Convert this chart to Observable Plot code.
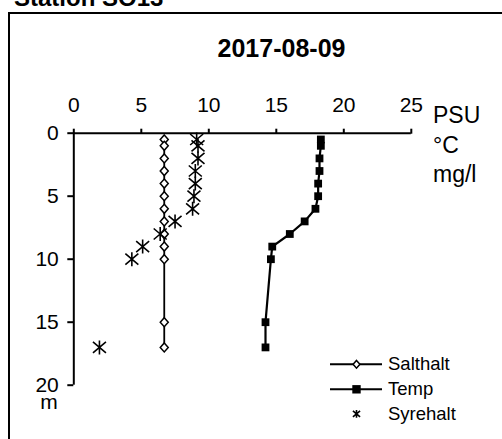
<!DOCTYPE html>
<html>
<head>
<meta charset="utf-8">
<script src="https://cdn.jsdelivr.net/npm/d3@7"></script>
<script src="https://cdn.jsdelivr.net/npm/@observablehq/plot@0.6"></script>
<style>
  html, body { margin: 0; padding: 0; background: #fff; }
  #wrap { position: relative; width: 502px; height: 439px; overflow: hidden; background: #fff;
          font-family: "Liberation Sans", Arial, sans-serif; color: #000; }
  #wrap svg.plot { position: absolute; left: 0; top: 0; }
  .txt { position: absolute; white-space: nowrap; line-height: 1; }
  .frameTop { position: absolute; left: 8px; top: 12px; width: 494px; height: 2px; background: #000; }
  .frameLeft { position: absolute; left: 8px; top: 12px; width: 2px; height: 427px; background: #000; }
</style>
</head>
<body>
<div id="wrap"></div>
<script>
// ---- data ----
const stationTitle = "Station SO13";
const dateTitle = "2017-08-09";
const depths   = [0.5, 1, 2, 3, 4, 5, 6, 7, 8, 9, 10, 15, 17];
const salthalt = [6.7, 6.7, 6.7, 6.7, 6.7, 6.7, 6.7, 6.7, 6.7, 6.7, 6.7, 6.7, 6.7];
const temp     = [18.3, 18.3, 18.2, 18.2, 18.1, 18.1, 17.9, 17.1, 16.0, 14.7, 14.6, 14.2, 14.2];
const syrehalt = [9.1, 9.2, 9.2, 9.0, 9.0, 8.9, 8.8, 7.5, 6.4, 5.1, 4.3, null, 1.9];
const xTicks = [0, 5, 10, 15, 20, 25];
const yTicks = [0, 5, 10, 15, 20];
const unitLabels = ["PSU", "°C", "mg/l"];
const depthUnit = "m";
const seriesNames = ["Salthalt", "Temp", "Syrehalt"];

const rows = depths.map((d, i) => ({depth: d, salt: salthalt[i], temp: temp[i], oxy: syrehalt[i]}));

// ---- symbols ----
function diamondSym(s) {
  return {draw(ctx) { ctx.moveTo(0, -4.5 * s); ctx.lineTo(4 * s, 0); ctx.lineTo(0, 4.5 * s); ctx.lineTo(-4 * s, 0); ctx.closePath(); }};
}
function starSym(s) {
  return {draw(ctx) {
    ctx.moveTo(0, -7 * s); ctx.lineTo(0, 7 * s);
    ctx.moveTo(-6.5 * s, -5.5 * s); ctx.lineTo(6.5 * s, 5.5 * s);
    ctx.moveTo(-6.5 * s, 5.5 * s); ctx.lineTo(6.5 * s, -5.5 * s);
  }};
}

const FONT = '"Liberation Sans", Arial, sans-serif';

const chart = Plot.plot({
  width: 502,
  height: 439,
  marginLeft: 73.3,
  marginRight: 91.2,
  marginTop: 132.7,
  marginBottom: 54.3,
  style: {fontFamily: FONT, fontSize: "21px", color: "black", background: "transparent", overflow: "visible"},
  x: {domain: [0, 25]},
  y: {domain: [0, 20], reverse: true},
  marks: [
    Plot.axisX({anchor: "top", ticks: xTicks, tickSize: 5, tickPadding: 16, strokeWidth: 2, label: null, fontSize: 21}),
    Plot.axisY({anchor: "left", ticks: yTicks, tickSize: 6, tickPadding: 9, strokeWidth: 2, label: null, fontSize: 21}),
    Plot.ruleY([0], {stroke: "black", strokeWidth: 2}),
    Plot.ruleX([0], {stroke: "black", strokeWidth: 2}),
    Plot.line(rows, {x: "salt", y: "depth", stroke: "black", strokeWidth: 1.8}),
    Plot.dot(rows, {x: "salt", y: "depth", symbol: diamondSym(1), fill: "white", stroke: "black", strokeWidth: 1.5}),
    Plot.line(rows, {x: "temp", y: "depth", stroke: "black", strokeWidth: 2.2}),
    Plot.dot(rows, {x: "temp", y: "depth", symbol: "square", r: 4.4, fill: "black", stroke: "none"}),
    Plot.dot(rows.filter(d => d.oxy != null), {x: "oxy", y: "depth", symbol: starSym(1), fill: "none", stroke: "black", strokeWidth: 1.6})
  ]
});
chart.classList.add("plot");

const wrap = document.getElementById("wrap");
wrap.appendChild(chart);

function addText(str, left, baseline, size, opts = {}) {
  const el = document.createElement("div");
  el.className = "txt";
  el.textContent = str;
  el.style.fontSize = size + "px";
  const lh = opts.lineHeight || 1;
  el.style.lineHeight = String(lh);
  el.style.top = (baseline - (lh / 2 + 0.3465) * size) + "px";
  if (opts.bold) el.style.fontWeight = "bold";
  if (opts.center) { el.style.left = left + "px"; el.style.transform = "translateX(-50%)"; }
  else el.style.left = left + "px";
  wrap.appendChild(el);
  return el;
}

// frame
const ft = document.createElement("div"); ft.className = "frameTop"; wrap.appendChild(ft);
const fl = document.createElement("div"); fl.className = "frameLeft"; wrap.appendChild(fl);

// titles
addText(stationTitle, 14, 6.5, 24, {bold: true});
addText(dateTitle, 281.5, 56.7, 25, {bold: true, center: true});

// units
const unitBaselines = [123, 153, 182];
unitLabels.forEach((u, i) => addText(u, 433, unitBaselines[i], 23));
addText(depthUnit, 49, 409.5, 21, {center: true, lineHeight: 0.55});

// legend
const legendY = [364.3, 389.3, 413.8];
const lsvg = d3.create("svg").attr("width", 502).attr("height", 439)
  .style("position", "absolute").style("left", 0).style("top", 0);
const symPath = (sym) => { const p = d3.path(); sym.draw(p); return p.toString(); };
seriesNames.forEach((name, i) => {
  const g = lsvg.append("g").attr("transform", `translate(356.5,${legendY[i]})`);
  if (i < 2) g.append("line").attr("x1", -26.5).attr("x2", 25.5).attr("stroke", "black").attr("stroke-width", 2);
  if (i === 0) g.append("path").attr("d", symPath(diamondSym(0.85))).attr("fill", "white").attr("stroke", "black").attr("stroke-width", 1.5);
  if (i === 1) g.append("rect").attr("x", -4.2).attr("y", -4.2).attr("width", 8.4).attr("height", 8.4).attr("fill", "black");
  if (i === 2) g.append("path").attr("d", symPath(starSym(0.55))).attr("fill", "none").attr("stroke", "black").attr("stroke-width", 1.6);
  addText(name, 388, legendY[i] + 0.358 * 18.5, 18.5);
});
wrap.appendChild(lsvg.node());
</script>
</body>
</html>
